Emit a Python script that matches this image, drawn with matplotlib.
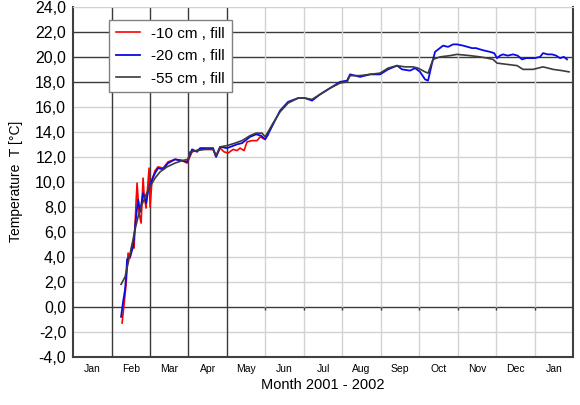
import matplotlib
matplotlib.use('Agg')
from matplotlib import pyplot as plt
from matplotlib.ticker import FuncFormatter

plt.rcParams['font.family'] = ['Liberation Sans', 'DejaVu Sans']

# time in months from 1 Jan 2001 (each month one unit wide on the axis)
months = ['Jan', 'Feb', 'Mar', 'Apr', 'May', 'Jun', 'Jul', 'Aug', 'Sep',
          'Oct', 'Nov', 'Dec', 'Jan']

t_10 = [1.274, 1.326, 1.378, 1.430, 1.482, 1.534, 1.586, 1.638, 1.664, 1.716,
        1.768, 1.820, 1.846, 1.898, 1.976, 2.002, 2.054, 2.132, 2.210, 2.340,
        2.470, 2.652, 2.834, 2.964, 3.094, 3.302, 3.640, 3.718, 3.822, 3.926,
        4.030, 4.160, 4.264, 4.342, 4.446, 4.524, 4.654, 4.784, 4.862, 4.992,
        5.070]
T_10 = [-1.3, 0.2, 1.8, 4.3, 3.9, 5.0, 4.7, 8.4, 9.9, 7.5,
        6.7, 10.3, 9.0, 7.9, 11.1, 8.0, 10.2, 10.9, 11.2, 11.1,
        11.6, 11.8, 11.7, 11.5, 12.4, 12.6, 12.6, 12.0, 12.7, 12.4,
        12.3, 12.6, 12.5, 12.7, 12.5, 13.2, 13.3, 13.3, 13.6, 13.4,
        13.8]

t_20 = [1.248, 1.300, 1.352, 1.378, 1.404, 1.482, 1.560, 1.612, 1.664, 1.690,
        1.742, 1.820, 1.898, 1.950, 2.002, 2.132, 2.210, 2.340, 2.470, 2.652,
        2.834, 2.964, 3.094, 3.224, 3.302, 3.640, 3.718, 3.822, 4.004, 4.264,
        4.394, 4.602, 4.758, 4.888, 4.992, 5.070, 5.200, 5.382, 5.590, 5.850,
        6.032, 6.214, 6.422, 6.682, 6.942, 7.124, 7.202, 7.462, 7.722, 7.982,
        8.190, 8.424, 8.554, 8.762, 8.892, 9.022, 9.152, 9.230, 9.334, 9.412,
        9.620, 9.750, 9.880, 9.984, 10.140, 10.260, 10.374, 10.480, 10.582, 10.700,
        10.842, 10.950, 11.024, 11.100, 11.180, 11.300, 11.440, 11.560, 11.674, 11.780,
        11.882, 12.000, 12.142, 12.220, 12.340, 12.454, 12.560, 12.662, 12.760, 12.844]
T_20 = [-0.8, 0.4, 1.4, 2.4, 3.8, 4.0, 4.8, 6.4, 7.9, 8.6,
        7.6, 9.1, 8.3, 9.2, 9.8, 10.7, 11.1, 11.0, 11.5, 11.8,
        11.7, 11.6, 12.6, 12.4, 12.7, 12.7, 12.0, 12.8, 12.7, 13.0,
        13.1, 13.6, 13.8, 13.7, 13.4, 13.8, 14.6, 15.7, 16.4, 16.7,
        16.7, 16.5, 17.0, 17.5, 18.0, 18.1, 18.6, 18.4, 18.6, 18.6,
        19.0, 19.3, 19.0, 18.9, 19.1, 18.8, 18.2, 18.1, 19.5, 20.4,
        20.9, 20.8, 21.0, 21.0, 20.9, 20.8, 20.7, 20.7, 20.6, 20.5,
        20.4, 20.3, 19.9, 20.1, 20.2, 20.1, 20.2, 20.1, 19.8, 19.9,
        19.9, 19.9, 20.0, 20.3, 20.2, 20.2, 20.1, 19.9, 20.0, 19.8]

t_55 = [1.248, 1.352, 1.430, 1.534, 1.612, 1.690, 1.768, 1.872, 1.976, 2.132,
        2.262, 2.444, 2.652, 2.834, 2.990, 3.042, 3.224, 3.432, 3.640, 3.718,
        3.822, 4.004, 4.212, 4.394, 4.602, 4.758, 4.914, 4.992, 5.070, 5.200,
        5.382, 5.590, 5.850, 6.032, 6.214, 6.422, 6.682, 6.942, 7.124, 7.202,
        7.462, 7.722, 7.982, 8.190, 8.424, 8.632, 8.840, 8.970, 9.152, 9.230,
        9.360, 9.542, 9.802, 9.984, 10.322, 10.582, 10.764, 10.920, 11.024, 11.284,
        11.544, 11.700, 11.960, 12.220, 12.480, 12.714, 12.896]
T_55 = [1.8, 2.4, 3.5, 5.0, 6.2, 7.2, 8.0, 8.8, 9.5, 10.3,
        10.8, 11.2, 11.5, 11.7, 11.8, 12.4, 12.5, 12.6, 12.6, 12.1,
        12.8, 12.9, 13.1, 13.3, 13.7, 13.9, 13.9, 13.6, 14.0, 14.7,
        15.6, 16.3, 16.7, 16.7, 16.6, 17.0, 17.5, 17.9, 18.0, 18.5,
        18.5, 18.6, 18.7, 19.1, 19.3, 19.2, 19.2, 19.1, 18.8, 18.7,
        19.8, 20.0, 20.1, 20.2, 20.1, 20.0, 19.9, 19.8, 19.5, 19.4,
        19.3, 19.0, 19.0, 19.2, 19.0, 18.9, 18.8]

labels = ['-10 cm , fill', '-20 cm , fill', '-55 cm , fill']


def main():
    fig = plt.figure(figsize=(5.8, 4.05), dpi=100)
    ax = fig.add_axes([0.126, 0.119, 0.862, 0.864])

    # grid
    for y in range(-4, 25, 2):
        dark = y in (0, 18, 20, 22)
        ax.axhline(y, color='#3a3a3a' if dark else '#d2d2d2',
                   lw=1.0, zorder=1)
    for m in range(1, 13):
        dark = m in (1, 2, 3, 4)
        ax.axvline(m, color='#3a3a3a' if dark else '#d2d2d2',
                   lw=1.0, zorder=1)
    ax.vlines(range(5, 13), -0.25, 0.0, color='#3a3a3a', lw=1.0, zorder=1)

    ax.plot(t_10, T_10, color='#ff0000', lw=1.2, zorder=3, label=labels[0])
    ax.plot(t_20, T_20, color='#0a0ae6', lw=1.3, zorder=4, label=labels[1])
    ax.plot(t_55, T_55, color='#3c3c3c', lw=1.2, zorder=5, label=labels[2])

    ax.set_xlim(0, 13)
    ax.set_ylim(-4, 24)
    ax.set_yticks(range(-4, 25, 2))
    ax.yaxis.set_major_formatter(FuncFormatter(lambda v, p: ('%.1f' % v).replace('.', ',')))
    ax.set_xticks(range(0, 14))
    ax.set_xticklabels([])
    ax.set_xticks([m + 0.5 for m in range(13)], minor=True)
    ax.set_xticklabels(months, minor=True)
    ax.tick_params(axis='x', which='both', length=0, labelsize=7.5, pad=5)
    ax.tick_params(axis='y', length=0, labelsize=11.5, pad=5)

    for side in ('left', 'bottom', 'right'):
        ax.spines[side].set_color('#404040')
        ax.spines[side].set_linewidth(1.5)
    ax.spines['top'].set_color('#d2d2d2')

    ax.set_xlabel('Month 2001 - 2002', fontsize=10.5, labelpad=3)
    ax.set_ylabel('Temperature  T [\u00b0C]', fontsize=10, labelpad=9)

    leg = ax.legend(loc='upper left', bbox_to_anchor=(0.072, 0.963),
                    borderaxespad=0, fontsize=11, fancybox=False, framealpha=1,
                    edgecolor='#808080', handlelength=1.6, handletextpad=0.7,
                    borderpad=0.45, labelspacing=0.55)
    leg.get_frame().set_linewidth(1.0)
    leg.set_zorder(10)

    fig.savefig('out.png', dpi=100)


if __name__ == '__main__':
    main()
